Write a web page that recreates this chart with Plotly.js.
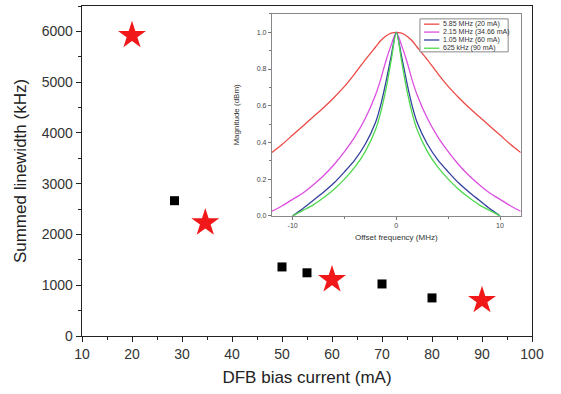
<!DOCTYPE html>
<html>
<head>
<meta charset="utf-8">
<script src="https://cdn.plot.ly/plotly-3.0.1.min.js"></script>
<style>html,body{margin:0;padding:0;background:#fff;}#chart{width:561px;height:394px;}</style>
</head>
<body>
<div id="chart"></div>
<script>
// Main plot data
var starCurrent = [20, 34.66, 60, 90];
var starLinewidth = [5920, 2230, 1110, 700];
var squareCurrent = [28.5, 50, 55, 70, 80];
var squareLinewidth = [2665, 1360, 1245, 1025, 750];

// Inset data (offset frequency in MHz, normalized magnitude)
var freqRed = [-12, -11, -10, -9, -8, -7, -6, -5, -4, -3, -2, -1.5, -1, -0.5, 0, 0.5, 1, 1.5, 2, 3, 4, 5, 6, 7, 8, 9, 10, 11, 12];
var magRed  = [0.345, 0.39, 0.44, 0.49, 0.54, 0.59, 0.645, 0.705, 0.775, 0.85, 0.92, 0.955, 0.98, 0.995, 1.0, 0.995, 0.98, 0.955, 0.92, 0.85, 0.775, 0.705, 0.645, 0.59, 0.54, 0.49, 0.44, 0.39, 0.345];

var freqMagenta = [-12, -11, -10, -9, -8, -7, -6, -5, -4, -3, -2, -1.5, -1, -0.5, 0, 0.5, 1, 1.5, 2, 3, 4, 5, 6, 7, 8, 9, 10, 11, 12];
var magMagenta  = [0.025, 0.055, 0.09, 0.125, 0.17, 0.22, 0.28, 0.35, 0.43, 0.53, 0.66, 0.745, 0.845, 0.93, 1.0, 0.93, 0.845, 0.745, 0.66, 0.53, 0.43, 0.35, 0.28, 0.22, 0.17, 0.125, 0.09, 0.055, 0.025];

var freqBlue = [-10, -9, -8, -7, -6, -5, -4, -3, -2, -1.5, -1, -0.5, 0, 0.5, 1, 1.5, 2, 3, 4, 5, 6, 7, 8, 9, 10];
var magBlue  = [0.0, 0.04, 0.085, 0.13, 0.18, 0.24, 0.305, 0.39, 0.51, 0.605, 0.73, 0.87, 1.0, 0.87, 0.73, 0.605, 0.51, 0.39, 0.305, 0.24, 0.18, 0.13, 0.085, 0.04, 0.0];

var freqGreen = [-10, -9, -8, -7, -6, -5, -4, -3, -2, -1.5, -1, -0.5, 0, 0.5, 1, 1.5, 2, 3, 4, 5, 6, 7, 8, 9, 10];
var magGreen  = [0.0, 0.03, 0.06, 0.1, 0.145, 0.2, 0.265, 0.35, 0.47, 0.565, 0.69, 0.845, 1.0, 0.845, 0.69, 0.565, 0.47, 0.35, 0.265, 0.2, 0.145, 0.1, 0.06, 0.03, 0.0];

var legendLabels = ["5.85 MHz (20 mA)", "2.15 MHz (34.66 mA)", "1.05 MHz (60 mA)", "625 kHz (90 mA)"];
var legendColors = ['#ec4a45', '#dc4ee0', '#34409e', '#4ed84e'];

var insetX = [freqRed, freqMagenta, freqBlue, freqGreen];
var insetY = [magRed, magMagenta, magBlue, magGreen];

var traces = [
  {x: starCurrent, y: starLinewidth, type: 'scatter', mode: 'markers',
   marker: {symbol: 'star', size: 21, color: '#f01818', line: {width: 0}}, xaxis: 'x', yaxis: 'y'},
  {x: squareCurrent, y: squareLinewidth, type: 'scatter', mode: 'markers',
   marker: {symbol: 'square', size: 9, color: '#000000', line: {width: 0}}, xaxis: 'x', yaxis: 'y'}
];
for (var i = 0; i < 4; i++) {
  traces.push({x: insetX[i], y: insetY[i], type: 'scatter', mode: 'lines', name: legendLabels[i],
    line: {color: legendColors[i], width: 1.3, shape: 'spline', smoothing: 0.8}, xaxis: 'x2', yaxis: 'y2'});
}

// Inset legend drawn as a small boxed key
var shapes = [{type: 'rect', xref: 'paper', yref: 'paper', x0: 0.751, x1: 0.947, y0: 0.861, y1: 0.961,
  line: {color: '#888', width: 1}, fillcolor: 'rgba(255,255,255,0.9)'}];
var annotations = [];
var rowY = [0.945, 0.921, 0.897, 0.872];
for (var k = 0; k < 4; k++) {
  shapes.push({type: 'line', xref: 'paper', yref: 'paper', x0: 0.760, x1: 0.794, y0: rowY[k], y1: rowY[k],
    line: {color: legendColors[k], width: 1.3}});
  annotations.push({xref: 'paper', yref: 'paper', x: 0.797, y: rowY[k], xanchor: 'left', yanchor: 'middle',
    text: legendLabels[k], showarrow: false, font: {size: 7, color: '#333'}});
}

var font = 'Liberation Sans, Arial, sans-serif';
var layout = {
  width: 561, height: 394,
  margin: {l: 82, r: 29, t: 6, b: 58},
  paper_bgcolor: '#fff', plot_bgcolor: '#fff',
  font: {family: font, color: '#222'},
  showlegend: false,
  shapes: shapes,
  annotations: annotations,
  xaxis: {
    domain: [0, 1], range: [10, 100], tick0: 10, dtick: 10,
    ticks: 'outside', ticklen: 5, tickcolor: '#222', tickwidth: 1,
    minor: {dtick: 5, ticks: 'outside', ticklen: 3, tickcolor: '#222'},
    showline: true, linecolor: '#222', linewidth: 1.3, mirror: true,
    showgrid: false, zeroline: false,
    tickfont: {size: 14, color: '#333'},
    title: {text: 'DFB bias current (mA)', font: {size: 17, color: '#222'}, standoff: 10}
  },
  yaxis: {
    domain: [0, 1], range: [0, 6500], tick0: 0, dtick: 1000,
    ticks: 'outside', ticklen: 5, tickcolor: '#222', tickwidth: 1,
    minor: {dtick: 500, ticks: 'outside', ticklen: 3, tickcolor: '#222'},
    showline: true, linecolor: '#222', linewidth: 1.3, mirror: true,
    showgrid: false, zeroline: false,
    tickfont: {size: 14, color: '#333'},
    title: {text: 'Summed linewidth (kHz)', font: {size: 17, color: '#222'}, standoff: 10}
  },
  xaxis2: {
    domain: [0.422, 0.975], anchor: 'y2', range: [-12, 12],
    tickvals: [-10, 0, 10], ticktext: ['-10', '0', '10'],
    ticks: 'outside', ticklen: 3, tickcolor: '#777',
    minor: {tickvals: [-5, 5], ticks: 'outside', ticklen: 2, tickcolor: '#777'},
    showline: true, linecolor: '#888', linewidth: 1, mirror: true,
    showgrid: false, zeroline: false,
    tickfont: {size: 7, color: '#444'},
    title: {text: 'Offset frequency (MHz)', font: {size: 8, color: '#333'}, standoff: 6}
  },
  yaxis2: {
    domain: [0.364, 0.976], anchor: 'x2', range: [0, 1.1],
    tick0: 0, dtick: 0.2, tickformat: '.1f',
    ticks: 'outside', ticklen: 3, tickcolor: '#777',
    minor: {dtick: 0.1, ticks: 'outside', ticklen: 2, tickcolor: '#777'},
    showline: true, linecolor: '#888', linewidth: 1, mirror: true,
    showgrid: false, zeroline: false,
    tickfont: {size: 7, color: '#444'},
    title: {text: 'Magnitude (dBm)', font: {size: 8, color: '#333'}, standoff: 15}
  }
};

Plotly.newPlot('chart', traces, layout, {displayModeBar: false, staticPlot: true});
</script>
</body>
</html>
